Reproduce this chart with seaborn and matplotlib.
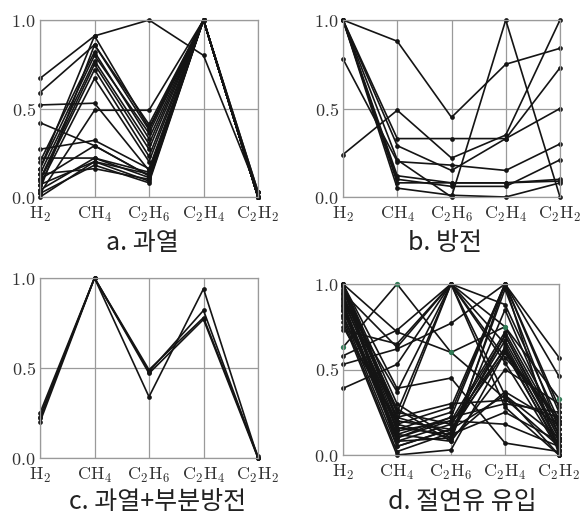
import matplotlib
matplotlib.use('Agg')
import matplotlib.pyplot as plt
import seaborn as sns
import pandas as pd

gases = [r'$\mathrm{H_2}$', r'$\mathrm{CH_4}$', r'$\mathrm{C_2H_6}$',
         r'$\mathrm{C_2H_4}$', r'$\mathrm{C_2H_2}$']
yticks = [0.0, 0.5, 1.0]
ylabels = ['$0.0$', '$0.5$', '$1.0$']

# one row per sample: H2, CH4, C2H6, C2H4, C2H2 (normalised)
overheat = [
    [0.67, 0.91, 1.00, 0.80, 0.03],
    [0.59, 0.86, 0.38, 1.00, 0.00],
    [0.52, 0.53, 0.15, 1.00, 0.00],
    [0.02, 0.49, 0.49, 1.00, 0.00],
    [0.42, 0.29, 0.12, 1.00, 0.00],
    [0.27, 0.32, 0.16, 1.00, 0.00],
    [0.22, 0.22, 0.11, 1.00, 0.00],
    [0.20, 0.82, 0.33, 1.00, 0.00],
    [0.16, 0.80, 0.36, 1.00, 0.00],
    [0.13, 0.77, 0.30, 1.00, 0.03],
    [0.10, 0.75, 0.27, 1.00, 0.00],
    [0.09, 0.72, 0.23, 1.00, 0.00],
    [0.07, 0.67, 0.20, 1.00, 0.00],
    [0.04, 0.86, 0.41, 1.00, 0.00],
    [0.00, 0.20, 0.09, 1.00, 0.00],
    [0.02, 0.18, 0.08, 1.00, 0.00],
    [0.13, 0.16, 0.10, 1.00, 0.00],
    [0.07, 0.20, 0.13, 1.00, 0.00],
    [0.04, 0.22, 0.14, 1.00, 0.00],
    [0.10, 0.29, 0.12, 1.00, 0.00],
    [0.16, 0.91, 0.39, 1.00, 0.03],
]

discharge = [
    [1.00, 0.88, 0.45, 0.75, 0.84],
    [0.24, 0.49, 0.22, 0.35, 1.00],
    [1.00, 0.33, 0.33, 0.33, 0.73],
    [1.00, 0.29, 0.15, 0.33, 0.50],
    [1.00, 0.21, 0.00, 1.00, 0.00],
    [0.78, 0.20, 0.18, 0.15, 0.30],
    [1.00, 0.12, 0.08, 0.08, 0.10],
    [1.00, 0.10, 0.06, 0.06, 0.21],
    [1.00, 0.05, 0.01, 0.00, 0.08],
    [1.00, 0.08, 0.08, 0.08, 0.09],
]

overheat_pd = [
    [0.23, 1.00, 0.34, 0.94, 0.00],
    [0.22, 1.00, 0.48, 0.82, 0.00],
    [0.20, 1.00, 0.47, 0.77, 0.00],
    [0.25, 1.00, 0.49, 0.78, 0.01],
]

oil_inflow = [
    [1.00, 0.25, 1.00, 0.35, 0.10],
    [0.99, 0.20, 1.00, 0.88, 0.20],
    [0.94, 0.18, 0.28, 1.00, 0.57],
    [0.92, 0.15, 0.25, 1.00, 0.46],
    [0.89, 0.12, 0.22, 1.00, 0.28],
    [0.87, 0.10, 0.20, 0.72, 0.15],
    [0.85, 0.08, 0.18, 0.70, 0.12],
    [0.82, 0.05, 0.15, 0.67, 0.10],
    [0.80, 0.02, 0.13, 0.63, 0.08],
    [0.78, 0.00, 0.03, 0.60, 0.05],
    [0.73, 0.65, 1.00, 0.57, 0.22],
    [0.58, 0.73, 1.00, 0.54, 0.03],
    [0.53, 0.62, 0.77, 1.00, 0.25],
    [0.39, 0.53, 1.00, 0.28, 0.00],
    [1.00, 0.39, 0.45, 0.07, 0.02],
    [1.00, 0.30, 0.10, 0.37, 0.18],
    [0.96, 0.27, 0.08, 0.50, 0.30],
    [0.90, 0.22, 0.30, 0.32, 0.22],
    [0.84, 0.16, 0.12, 0.25, 0.08],
    [0.97, 0.14, 0.20, 0.18, 0.05],
    [1.00, 0.08, 0.10, 0.97, 0.15],
    [0.75, 0.20, 0.15, 0.60, 0.20],
    [0.95, 0.63, 1.00, 0.65, 0.06],
    [0.88, 0.12, 0.08, 1.00, 0.00],
    [0.81, 0.18, 0.10, 0.85, 0.12],
    [1.00, 0.22, 0.13, 0.70, 0.10],
    [0.93, 0.25, 0.18, 0.62, 0.03],
    [0.86, 0.10, 0.22, 0.30, 0.25],
    [0.99, 0.05, 0.15, 0.35, 0.00],
    [0.91, 0.37, 1.00, 0.75, 0.18],
    [1.00, 0.72, 0.60, 0.33, 0.05],
]
oil_inflow_marked = [[0.63, 1.00, 0.60, 0.75, 0.33]]


def to_long(rows):
    recs = []
    for i, r in enumerate(rows):
        for j, v in enumerate(r):
            recs.append({'id': i, 'gas': j, 'value': v})
    return pd.DataFrame(recs)


sns.set_style('white')
plt.rcParams['mathtext.fontset'] = 'cm'
plt.rcParams['font.family'] = ['Noto Sans CJK KR', 'DejaVu Sans']

W, H = 581, 516
fig = plt.figure(figsize=(W / 100, H / 100), dpi=100)


def panel(px_box, rows, caption, cap_xy, extra=None):
    l, t, r, b = px_box
    ax = fig.add_axes([l / W, 1 - b / H, (r - l) / W, (b - t) / H])
    sns.lineplot(data=to_long(rows), x='gas', y='value', units='id', estimator=None,
                 color='#141414', lw=1.2, marker='o', markersize=3.4, markeredgewidth=0,
                 legend=False, ax=ax, clip_on=False, sort=False)
    if extra is not None:
        sns.lineplot(data=to_long(extra), x='gas', y='value', units='id', estimator=None,
                     color='#141414', lw=1.2, marker='o', markersize=3.8,
                     markerfacecolor='#2f7a55', markeredgewidth=0,
                     legend=False, ax=ax, clip_on=False, sort=False)
    ax.set_xlim(0, 4)
    ax.set_ylim(0, 1)
    ax.set_xticks(range(5))
    ax.set_xticklabels(gases)
    ax.set_yticks(yticks)
    ax.set_yticklabels(ylabels)
    ax.set_xlabel('')
    ax.set_ylabel('')
    ax.set_axisbelow(True)
    ax.grid(True, color='#9a9a9a', lw=0.9)
    ax.tick_params(length=0, labelsize=13, colors='#333333')
    ax.tick_params(axis='x', pad=6)
    ax.tick_params(axis='y', pad=3)
    for s in ax.spines.values():
        s.set_color('#9a9a9a')
        s.set_linewidth(0.9)
    fig.text(cap_xy[0] / W, 1 - cap_xy[1] / H, caption, ha='center', va='center',
             fontsize=18, color='#222222')
    return ax


panel((40, 20, 258, 197), overheat, 'a. 과열', (142, 243))
panel((343, 20, 560, 197), discharge, 'b. 방전', (445, 243))
panel((40, 278, 258, 458), overheat_pd, 'c. 과열+부분방전', (158, 502))
panel((343, 284, 559, 455), oil_inflow, 'd. 절연유 유입', (462, 502), extra=oil_inflow_marked)

fig.savefig('out.png', dpi=100)
